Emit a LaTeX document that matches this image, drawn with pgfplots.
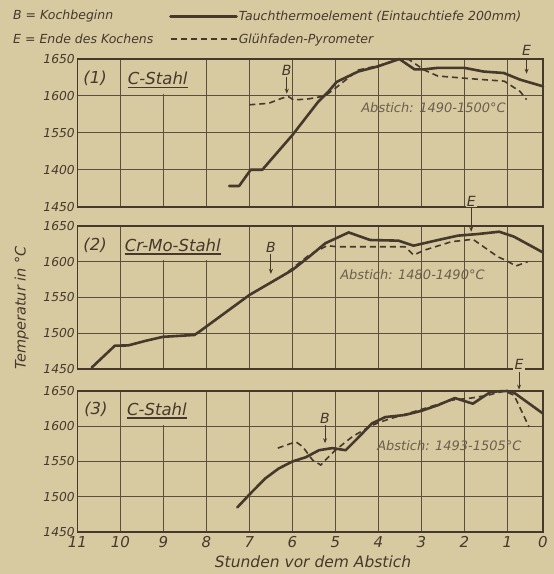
\documentclass[border=0pt]{standalone}
\usepackage{fontspec}
\setmainfont{DejaVu Sans}
\usepackage{pgfplots}
\pgfplotsset{compat=1.18}
\usetikzlibrary{arrows.meta}
\definecolor{bg}{RGB}{215,201,160}
\definecolor{ink}{RGB}{70,57,44}
\definecolor{gridc}{RGB}{92,78,60}
\definecolor{faint}{RGB}{108,95,76}

\tikzset{
  lab/.style={font=\fontsize{16.5}{18}\selectfont\itshape, text=ink, inner sep=0pt},
  ann/.style={font=\fontsize{14}{16}\selectfont\itshape, text=ink, inner sep=1.2pt},
  abst/.style={font=\fontsize{13}{15}\selectfont\itshape, text=faint, inner sep=0pt, anchor=west},
  arr/.style={draw=ink, line width=0.9pt, -{Stealth[length=5pt,width=4pt]}},
  uline/.style={draw=ink, line width=1.5pt},
}

\pgfplotsset{
  panel/.style={
    scale only axis, width=465.5pt,
    xmin=0, xmax=11, x dir=reverse,
    x coord trafo/.code={\pgfmathparse{(##1<1)*(0.169+0.831*##1)+(##1>=1)*##1}},
    x coord inv trafo/.code={\pgfmathparse{(##1<1)*((##1-0.169)/0.831)+(##1>=1)*##1}},
    ymin=1450, ymax=1650,
    xtick={0,1,2,3,4,5,6,7,8,9,10,11},
    ytick={1450,1500,1550,1600,1650},
    grid=major, major grid style={line width=1pt, draw=gridc},
    axis line style={line width=1.8pt, draw=ink},
    major tick length=0pt, tick style={draw=none},
    yticklabel style={font=\fontsize{12.3}{14}\selectfont\itshape, text=ink, inner sep=2.5pt},
    xticklabel style={font=\fontsize{15}{17}\selectfont\itshape, text=ink, yshift=-1pt},
    clip=false,
  },
  tt/.style={ink, line width=2.6pt, line join=round, line cap=round},
  gp/.style={ink, line width=1.6pt, dash pattern=on 6pt off 4pt},
}

\begin{document}
\begin{tikzpicture}
\path[use as bounding box, fill=bg] (0,0) rectangle (554pt,574pt);

% ---------- panel 1 ----------
\begin{axis}[panel, at={(77.5pt,367.3pt)}, anchor=south west, height=147.7pt,
  xticklabels={}, yticklabels={1450,1400,1550,1600,1650},
  legend style={draw=none, fill=none, at={(axis description cs:0.1966,1.3300)}, anchor=north west,
    font=\fontsize{12.5}{14}\selectfont\itshape, text=ink, inner sep=0pt, row sep=9.5pt,
    nodes={inner sep=1pt}, cells={anchor=west}},
  legend image code/.code={\draw[#1] (0pt,0.5pt) -- (66pt,0.5pt);},
]
\addplot[tt] coordinates {(7.47,1478) (7.24,1478) (6.97,1500) (6.70,1500) (6.0,1547) (5.40,1592) (5.16,1606) (4.97,1619) (4.47,1633) (4.01,1640) (3.51,1650) (3.16,1636) (2.93,1636) (2.62,1638) (2.0,1638) (1.55,1633) (1.08,1631) (0.64,1622) (0,1613)};
\addlegendentry{Tauchthermoelement (Eintauchtiefe 200mm)}
\addplot[gp] coordinates {(7.0,1588) (6.55,1590) (6.24,1597) (6.09,1599) (5.97,1594.5) (5.62,1596) (5.24,1600) (5.01,1610) (4.47,1635) (4.0,1641) (3.51,1650) (3.28,1649) (2.93,1635) (2.62,1627) (2.0,1624) (1.55,1622) (1.07,1620) (0.64,1606) (0.46,1595)};
\addlegendentry{Glühfaden-Pyrometer}
\fill[bg] (axis cs:9.1,1602) rectangle (axis cs:8.9,1648.5);
\node[lab] at (axis cs:10.59,1624) {(1)};
\node[lab, anchor=west] (c1) at (axis cs:9.83,1624) {C-Stahl};
\draw[uline] ([yshift=-2.5pt]c1.south west) -- ([yshift=-2.5pt]c1.south east);
\node[ann] at (axis cs:6.13,1635) {B};
\draw[arr] (axis cs:6.13,1626) -- (axis cs:6.13,1603);
\node[ann] at (axis cs:0.46,1661) {E};
\draw[arr] (axis cs:0.46,1650) -- (axis cs:0.46,1630);
\node[abst] at (axis cs:4.40,1584) {Abstich: 1490-1500°C};
\end{axis}

% ---------- panel 2 ----------
\begin{axis}[panel, at={(77.5pt,205pt)}, anchor=south west, height=143pt,
  xticklabels={}, yticklabels={1450,1500,1550,1600,1650}]
\addplot[tt] coordinates {(10.67,1452) (10.13,1482.6) (9.82,1483) (9.40,1489.6) (9.01,1495) (8.28,1497.6) (8.17,1502) (7.0,1553.5) (6.47,1572) (6.0,1588.5) (5.76,1600) (5.61,1607) (5.23,1626) (4.69,1641) (4.19,1630.4) (3.53,1629.5) (3.18,1622.5) (2.61,1630.4) (2.15,1636.5) (1.68,1638.8) (1.19,1642) (0.81,1635) (0,1613)};
\addplot[gp] coordinates {(6.1,1586) (5.61,1609.4) (5.19,1622.5) (4.96,1621) (3.38,1621) (3.18,1609.4) (2.92,1616.4) (2.30,1628) (1.80,1631.4) (1.22,1607) (1.0,1601) (0.76,1594) (0.43,1600)};
\fill[bg] (axis cs:9.2,1602) rectangle (axis cs:7.8,1648.5);
\node[lab] at (axis cs:10.59,1623.4) {(2)};
\node[lab, anchor=west] (c2) at (axis cs:9.90,1623.4) {Cr-Mo-Stahl};
\draw[uline] ([yshift=-2.5pt]c2.south west) -- ([yshift=-2.5pt]c2.south east);
\node[ann] at (axis cs:6.50,1620.6) {B};
\draw[arr] (axis cs:6.50,1611) -- (axis cs:6.50,1583);
\node[ann, fill=bg] at (axis cs:1.84,1685) {E};
\draw[arr] (axis cs:1.84,1675) -- (axis cs:1.84,1642);
\node[abst] at (axis cs:4.89,1581.5) {Abstich: 1480-1490°C};
\end{axis}

% ---------- panel 3 ----------
\begin{axis}[panel, at={(77.5pt,42pt)}, anchor=south west, height=141pt,
  xticklabels={0,1,2,3,4,5,6,7,8,9,10,11}, yticklabels={1450,1500,1550,1600,1650},
  xlabel={Stunden vor dem Abstich},
  xlabel style={font=\fontsize{15.5}{17}\selectfont\itshape, text=ink, at={(axis description cs:0.506,-0.2128)}, anchor=center, inner sep=0pt}]
\addplot[tt] coordinates {(7.28,1485) (6.97,1505) (6.63,1526) (6.32,1540) (6.0,1550) (5.69,1556) (5.38,1566) (5.07,1569) (4.76,1566) (4.45,1585) (4.15,1604) (3.84,1613) (3.38,1616) (2.99,1622) (2.61,1630) (2.22,1640) (1.80,1632) (1.38,1649) (1.0,1650) (0.81,1647.6) (0,1618)};
\addplot[gp] coordinates {(6.34,1569) (5.92,1578) (5.76,1571) (5.53,1552) (5.34,1545) (5.15,1557) (5.0,1566) (4.61,1585) (4.22,1599) (4.0,1605) (3.76,1610) (2.99,1624) (2.30,1637) (1.84,1640) (1.45,1644) (1.07,1650) (0.81,1644) (0.39,1599)};
\fill[bg] (axis cs:9.1,1602) rectangle (axis cs:8.9,1648.5);
\node[lab] at (axis cs:10.57,1624.5) {(3)};
\node[lab, anchor=west] (c3) at (axis cs:9.85,1624.5) {C-Stahl};
\draw[uline] ([yshift=-2.5pt]c3.south west) -- ([yshift=-2.5pt]c3.south east);
\node[ann] at (axis cs:5.24,1611.7) {B};
\draw[arr] (axis cs:5.24,1602) -- (axis cs:5.24,1576);
\node[ann, fill=bg] at (axis cs:0.67,1688) {E};
\draw[arr] (axis cs:0.67,1677) -- (axis cs:0.67,1652);
\node[abst] at (axis cs:4.03,1573) {Abstich: 1493-1505°C};
\end{axis}

% ---------- free text ----------
\node[anchor=west, font=\fontsize{12.5}{14}\selectfont\itshape, text=ink, inner sep=0pt] at (13pt,557.5pt) {B = Kochbeginn};
\node[anchor=west, font=\fontsize{12.5}{14}\selectfont\itshape, text=ink, inner sep=0pt] at (13pt,535.5pt) {E = Ende des Kochens};
\node[rotate=90, font=\fontsize{14.5}{16}\selectfont\itshape, text=ink, inner sep=0pt] at (21.7pt,266pt) {Temperatur in °C};
\end{tikzpicture}
\end{document}
